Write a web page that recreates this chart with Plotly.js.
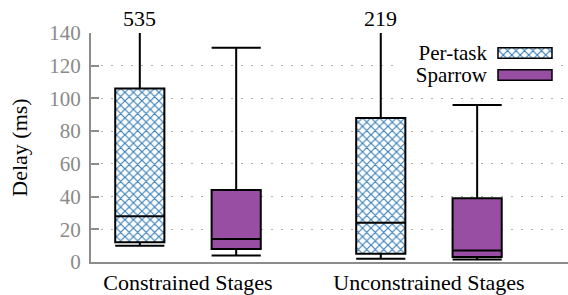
<!DOCTYPE html>
<html>
<head>
<meta charset="utf-8">
<script src="https://cdn.plot.ly/plotly-3.0.1.min.js"></script>
<style>html,body{margin:0;padding:0;background:#fff;}#chart{width:568px;height:295px;}</style>
</head>
<body>
<div id="chart"></div>
<script>
// ---- data ----
const categories = ['Constrained Stages', 'Unconstrained Stages'];
const seriesNames = ['Per-task', 'Sparrow'];
// Per-task
const perTaskLower = [10, 2];
const perTaskQ1 = [12, 5];
const perTaskMedian = [28, 24];
const perTaskQ3 = [106, 88];
const perTaskUpper = [535, 219];
// Sparrow
const sparrowLower = [4, 1.5];
const sparrowQ1 = [8, 3];
const sparrowMedian = [14, 7];
const sparrowQ3 = [44, 39];
const sparrowUpper = [131, 96];
const yTicks = [0, 20, 40, 60, 80, 100, 120, 140];

// ---- style ----
const BLUE = '#377eb8';
const PURPLE = '#984ea3';
const FONT = '"Liberation Serif", "Times New Roman", Times, serif';
const yMax = 140;
const boxOffset = 0.2;      // half distance between the two boxes in a group
const boxWidth = 0.2033;
const hatch = {shape: 'x', fgcolor: BLUE, bgcolor: '#ffffff', size: 6, solidity: 0.35, fillmode: 'replace'};

const boxStyle = {
  type: 'box', boxpoints: false, whiskerwidth: 1,
  line: {color: '#000', width: 2}, hoverinfo: 'skip', showlegend: false
};

const traces = [
  // hatched fill behind the Per-task boxes
  {
    type: 'bar', x: categories,
    base: perTaskQ1,
    y: perTaskQ3.map((v, i) => v - perTaskQ1[i]),
    width: boxWidth, offset: -boxOffset - boxWidth / 2,
    marker: {color: '#ffffff', line: {width: 0}, pattern: hatch},
    showlegend: false, hoverinfo: 'skip'
  },
  Object.assign({}, boxStyle, {
    name: seriesNames[0], x: categories,
    q1: perTaskQ1, median: perTaskMedian, q3: perTaskQ3,
    lowerfence: perTaskLower, upperfence: perTaskUpper,
    fillcolor: 'rgba(0,0,0,0)'
  }),
  Object.assign({}, boxStyle, {
    name: seriesNames[1], x: categories,
    q1: sparrowQ1, median: sparrowMedian, q3: sparrowQ3,
    lowerfence: sparrowLower, upperfence: sparrowUpper,
    fillcolor: PURPLE
  }),
  // legend swatches, drawn on a small inset subplot
  {
    type: 'bar', orientation: 'h', xaxis: 'x2', yaxis: 'y2',
    y: [seriesNames[0]], x: [1], width: 0.48, cliponaxis: false,
    marker: {color: '#ffffff', line: {color: '#000', width: 1.5}, pattern: hatch},
    showlegend: false, hoverinfo: 'skip'
  },
  {
    type: 'bar', orientation: 'h', xaxis: 'x2', yaxis: 'y2',
    y: [seriesNames[1]], x: [1], width: 0.48, cliponaxis: false,
    marker: {color: PURPLE, line: {color: '#000', width: 1.5}},
    showlegend: false, hoverinfo: 'skip'
  }
];

// value labels for whiskers that leave the plot
const annotations = [];
[perTaskUpper, sparrowUpper].forEach((arr, s) => {
  arr.forEach((v, i) => {
    if (v > yMax) {
      annotations.push({
        x: i + (s === 0 ? -boxOffset : boxOffset), y: yMax, xref: 'x', yref: 'y',
        text: String(v), showarrow: false, yanchor: 'bottom', yshift: 0,
        font: {family: FONT, size: 22, color: '#000'}
      });
    }
  });
});

const W = 568, H = 295, L = 91, R = 0, T = 33, B = 33;
const pw = W - L - R, ph = H - T - B;
const px2dx = p => (p - L) / pw;
const px2dy = p => (H - B - p) / ph;

const layout = {
  width: W, height: H,
  margin: {l: L, r: R, t: T, b: B, pad: 0},
  paper_bgcolor: '#fff', plot_bgcolor: '#fff',
  showlegend: false,
  boxmode: 'group', boxgap: 0.2, boxgroupgap: 0.49,
  font: {family: FONT, color: '#000', size: 22},
  xaxis: {
    type: 'category', range: [-0.4025, 1.577],
    showline: true, linecolor: '#8c8c8c', linewidth: 2,
    ticks: '', showgrid: false, zeroline: false,
    tickfont: {family: FONT, size: 22, color: '#000'}
  },
  yaxis: {
    range: [0, yMax], tickvals: yTicks,
    showline: true, linecolor: '#8c8c8c', linewidth: 2,
    ticks: 'inside', ticklen: 8, tickwidth: 2, tickcolor: '#8c8c8c',
    showgrid: true, gridcolor: '#b0b0b0', gridwidth: 1, griddash: '2px,8px',
    zeroline: false,
    tickfont: {family: FONT, size: 21, color: '#8a8a8a'},
    ticklabelstandoff: 4,
    title: {text: 'Delay (ms)', font: {family: FONT, size: 22, color: '#000'}, standoff: 16}
  },
  xaxis2: {
    domain: [px2dx(393), px2dx(558)], anchor: 'y2',
    range: [-(498 - 393) / 54, 1 + (558 - 552) / 54],
    showline: false, showgrid: false, zeroline: false, showticklabels: false, ticks: ''
  },
  yaxis2: {
    domain: [px2dy(90), px2dy(38)], anchor: 'free', position: px2dx(498),
    type: 'category', range: [1.682, -0.682],
    tickmode: 'array', tickvals: seriesNames,
    showline: false, showgrid: false, zeroline: false, ticks: '',
    ticklabelstandoff: 11,
    tickfont: {family: FONT, size: 21, color: '#000'}
  },
  annotations: annotations
};

Plotly.newPlot('chart', traces, layout, {displayModeBar: false, staticPlot: true});
</script>
</body>
</html>
